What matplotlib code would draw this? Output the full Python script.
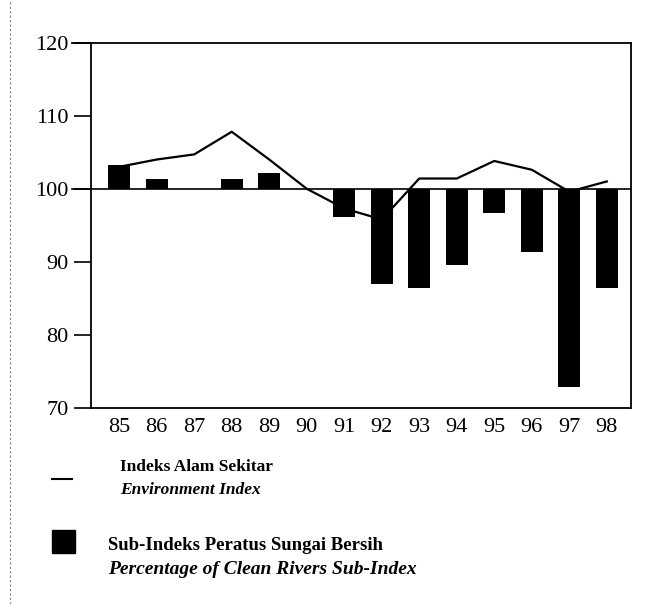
import numpy as np
import matplotlib.pyplot as plt

# years and values
years = ['85', '86', '87', '88', '89', '90', '91', '92', '93', '94', '95', '96', '97', '98']
env_index = [103.0, 104.0, 104.7, 107.8, 104.0, 100.0, 97.3, 95.8, 101.4, 101.4, 103.8, 102.6, 99.6, 101.0]
river_sub = [103.3, 101.4, 100.0, 101.3, 102.2, 100.0, 96.2, 87.0, 86.4, 89.6, 96.7, 91.4, 72.9, 86.4]
yticks = [70, 80, 90, 100, 110, 120]

plt.rcParams['font.family'] = ['Liberation Serif', 'DejaVu Serif']

fig = plt.figure(figsize=(6.46, 6.04), dpi=100)
ax = fig.add_axes([0.141, 0.3245, 0.836, 0.605])

x = np.arange(len(years))
base = 100
heights = [v - base for v in river_sub]
ax.bar(x, heights, bottom=base, width=0.58, color='black', zorder=2)
ax.plot(x, env_index, color='black', lw=1.6, zorder=3)
ax.axhline(base, color='black', lw=1.2, zorder=1, xmin=-0.035, clip_on=False)

ax.set_xlim(-0.75, 13.65)
ax.set_ylim(70, 120)
ax.set_yticks(yticks)
ax.set_xticks(x)
ax.set_xticklabels(years)
ax.tick_params(axis='x', length=0, labelsize=16, pad=7)
ax.tick_params(axis='y', direction='out', length=12, width=1.2, labelsize=16, pad=4)
for s in ax.spines.values():
    s.set_linewidth(1.3)

# top line extends out to the left like the tick marks
ax.plot([-0.035, 0], [1, 1], transform=ax.transAxes, color='black', lw=1.3, clip_on=False)

# legend drawn by hand below the chart
fig.add_artist(plt.Line2D([52/646, 72/646], [1-479/604, 1-479/604], color='black', lw=1.5))
fig.add_artist(plt.Rectangle((52/646, 1-553/604), 23/646, 23/604, color='black'))
fig.text(120/646, 1-467/604, 'Indeks Alam Sekitar', fontsize=12.5, fontweight='bold', va='center')
fig.text(120/646, 1-490/604, 'Environment Index', fontsize=12.5, fontweight='bold', style='italic', va='center')
fig.text(108/646, 1-545/604, 'Sub-Indeks Peratus Sungai Bersih', fontsize=13.5, fontweight='bold', va='center')
fig.text(108/646, 1-570/604, 'Percentage of Clean Rivers Sub-Index', fontsize=14, fontweight='bold', style='italic', va='center')

# scan edge on the left
fig.add_artist(plt.Line2D([10/646, 10/646], [0, 1], color='gray', lw=0.8, ls=(0, (2, 2))))

fig.savefig('out.png', dpi=100)
